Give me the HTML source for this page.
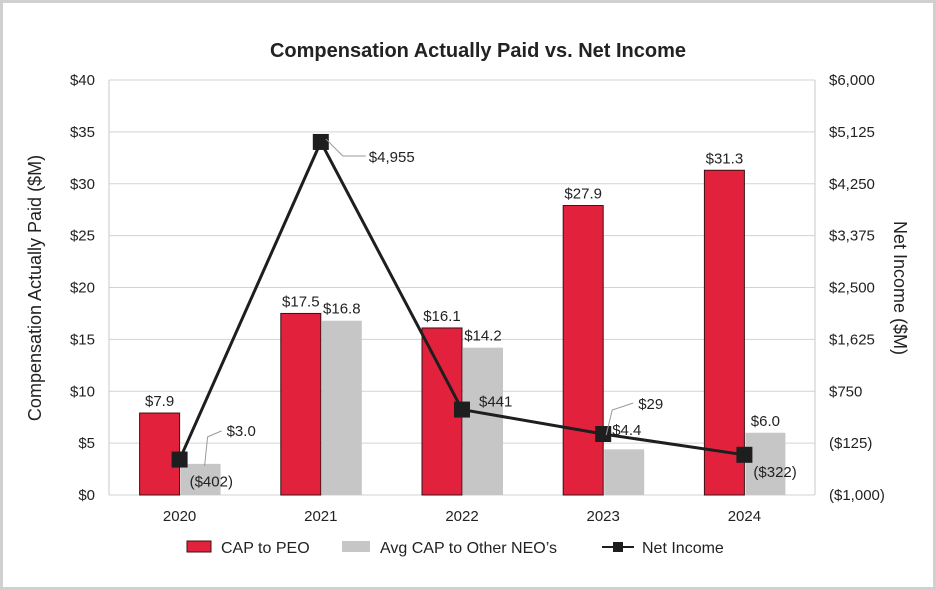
<!DOCTYPE html>
<html><head><meta charset="utf-8"><style>
html,body{margin:0;padding:0;background:#fff}
svg{display:block;font-family:"Liberation Sans",sans-serif}
</style></head><body>
<svg id="c" width="936" height="590" viewBox="0 0 936 590"></svg>
<script>
const years=["2020","2021","2022","2023","2024"];
const capPEO=[7.9,17.5,16.1,27.9,31.3];
const capNEO=[3.0,16.8,14.2,4.4,6.0];
const netIncome=[-402,4955,441,29,-322];
const peoLabels=["$7.9","$17.5","$16.1","$27.9","$31.3"];
const neoLabels=["$3.0","$16.8","$14.2","$4.4","$6.0"];
const niLabels=["($402)","$4,955","$441","$29","($322)"];
const leftTicks=[0,5,10,15,20,25,30,35,40];
const leftTickLabels=["$0","$5","$10","$15","$20","$25","$30","$35","$40"];
const rightTicks=[-1000,-125,750,1625,2500,3375,4250,5125,6000];
const rightTickLabels=["($1,000)","($125)","$750","$1,625","$2,500","$3,375","$4,250","$5,125","$6,000"];

const NS="http://www.w3.org/2000/svg";
const svg=document.getElementById('c');
const L=109,R=815,T=80,B=495;
const band=(R-L)/years.length;
const xC=i=>L+band*(i+0.5);
const yL=v=>B-(v-0)/(40-0)*(B-T);
const yR=v=>B-(v+1000)/(7000)*(B-T);
function mk(tag,attrs,name,text){const e=document.createElementNS(NS,tag);for(const k in attrs)e.setAttribute(k,attrs[k]);


if(text!==undefined)e.textContent=text;svg.appendChild(e);return e;}

mk('rect',{x:1.5,y:1.5,width:933,height:587,fill:'#fff',stroke:'#d0d0d0','stroke-width':3},'chart-border');
mk('text',{x:478,y:57,'text-anchor':'middle','font-size':20,'font-weight':'bold',fill:'#222'},'chart-title','Compensation Actually Paid vs. Net Income');
leftTicks.forEach((t,i)=>{
  mk('line',{x1:L,x2:R,y1:yL(t),y2:yL(t),stroke:'#d3d3d3','stroke-width':1},'gridline');
  mk('text',{x:95,y:yL(t)+5,'text-anchor':'end','font-size':15,fill:'#222'},'left-tick-label',leftTickLabels[i]);
});
rightTicks.forEach((t,i)=>{
  mk('text',{x:829,y:yR(t)+5,'text-anchor':'start','font-size':15,fill:'#222'},'right-tick-label',rightTickLabels[i]);
});
mk('line',{x1:L,x2:L,y1:T,y2:B,stroke:'#c8c8c8'},'left-axis-line');
mk('line',{x1:R,x2:R,y1:T,y2:B,stroke:'#c8c8c8'},'right-axis-line');
mk('text',{x:0,y:0,transform:'translate(41,288) rotate(-90)','text-anchor':'middle','font-size':18,fill:'#222'},'left-axis-title','Compensation Actually Paid ($M)');
mk('text',{x:0,y:0,transform:'translate(894,288) rotate(90)','text-anchor':'middle','font-size':18,fill:'#222'},'right-axis-title','Net Income ($M)');

const bw=40;
years.forEach((y,i)=>{
  const c=xC(i);
  mk('rect',{x:c-bw,y:yL(capPEO[i]),width:bw,height:B-yL(capPEO[i]),fill:'#e2223d',stroke:'#3a1016','stroke-width':1},'bar-cap-peo-'+y);
  mk('rect',{x:c+1,y:yL(capNEO[i]),width:bw,height:B-yL(capNEO[i]),fill:'#c6c6c6'},'bar-cap-neo-'+y);
  mk('text',{x:c,y:B+26,'text-anchor':'middle','font-size':15,fill:'#222'},'x-tick-label',y);
  mk('text',{x:c-bw/2,y:yL(capPEO[i])-7,'text-anchor':'middle','font-size':15,fill:'#222'},'peo-value-label',peoLabels[i]);
});
// NEO labels with offsets
const neoOff=[[48,-11],[21,-7],[21,-7],[21,-9],[21,-7]];
years.forEach((y,i)=>{
  const c=xC(i);
  const lx=c+neoOff[i][0], ly=yL(capNEO[i])+neoOff[i][1];
  if(i===0){mk('polyline',{points:`${c+25},${yL(capNEO[i])+2} ${c+28},${ly-16} ${c+42},${ly-22}`,fill:'none',stroke:'#999'},'leader-line');
    mk('text',{x:c+47,y:ly-17,'font-size':15,fill:'#222'},'neo-value-label',neoLabels[i]);}
  else if(i===3){mk('text',{x:c+9,y:yR(netIncome[3])+1,'font-size':15,fill:'#222'},'neo-value-label',neoLabels[i]);}
  else mk('text',{x:lx,y:ly,'text-anchor':'middle','font-size':15,fill:'#222'},'neo-value-label',neoLabels[i]);
});
// net income line
mk('polyline',{points:netIncome.map((v,i)=>xC(i)+','+yR(v)).join(' '),fill:'none',stroke:'#1e1e1e','stroke-width':3},'net-income-line');
netIncome.forEach((v,i)=>{
  mk('rect',{x:xC(i)-8,y:yR(v)-8,width:16,height:16,fill:'#1e1e1e'},'net-income-point-'+years[i]);
});
// NI labels
const c0=xC(0),c1=xC(1),c2=xC(2),c3=xC(3),c4=xC(4);
mk('text',{x:c0+10,y:yR(netIncome[0])+27,'font-size':15,fill:'#222'},'net-income-label',niLabels[0]);
mk('polyline',{points:`${c1+5},${yR(netIncome[1])-3} ${c1+22},${yR(netIncome[1])+14} ${c1+45},${yR(netIncome[1])+14}`,fill:'none',stroke:'#999'},'leader-line');
mk('text',{x:c1+48,y:yR(netIncome[1])+20,'font-size':15,fill:'#222'},'net-income-label',niLabels[1]);
mk('text',{x:c2+17,y:yR(netIncome[2])-3,'font-size':15,fill:'#222'},'net-income-label',niLabels[2]);
mk('polyline',{points:`${c3+3},${yR(netIncome[3])+1} ${c3+9},${yR(netIncome[3])-24} ${c3+30},${yR(netIncome[3])-31}`,fill:'none',stroke:'#999'},'leader-line');
mk('text',{x:c3+35,y:yR(netIncome[3])-25,'font-size':15,fill:'#222'},'net-income-label',niLabels[3]);
mk('text',{x:c4+9,y:yR(netIncome[4])+22,'font-size':15,fill:'#222'},'net-income-label',niLabels[4]);

// legend
mk('rect',{x:187,y:541,width:24,height:11,fill:'#e2223d',stroke:'#3a1016'},'legend-swatch-cap-peo');
mk('text',{x:221,y:553,'font-size':16,fill:'#222'},'legend-label-cap-peo','CAP to PEO');
mk('rect',{x:342,y:541,width:28,height:11,fill:'#c6c6c6'},'legend-swatch-cap-neo');
mk('text',{x:380,y:553,'font-size':16,fill:'#222'},'legend-label-cap-neo',"Avg CAP to Other NEO’s");
mk('line',{x1:602,x2:634,y1:547,y2:547,stroke:'#1e1e1e','stroke-width':2},'legend-line-net-income');
mk('rect',{x:613,y:542,width:10,height:10,fill:'#1e1e1e'},'legend-marker-net-income');
mk('text',{x:642,y:553,'font-size':16,fill:'#222'},'legend-label-net-income','Net Income');
</script>
</body></html>
